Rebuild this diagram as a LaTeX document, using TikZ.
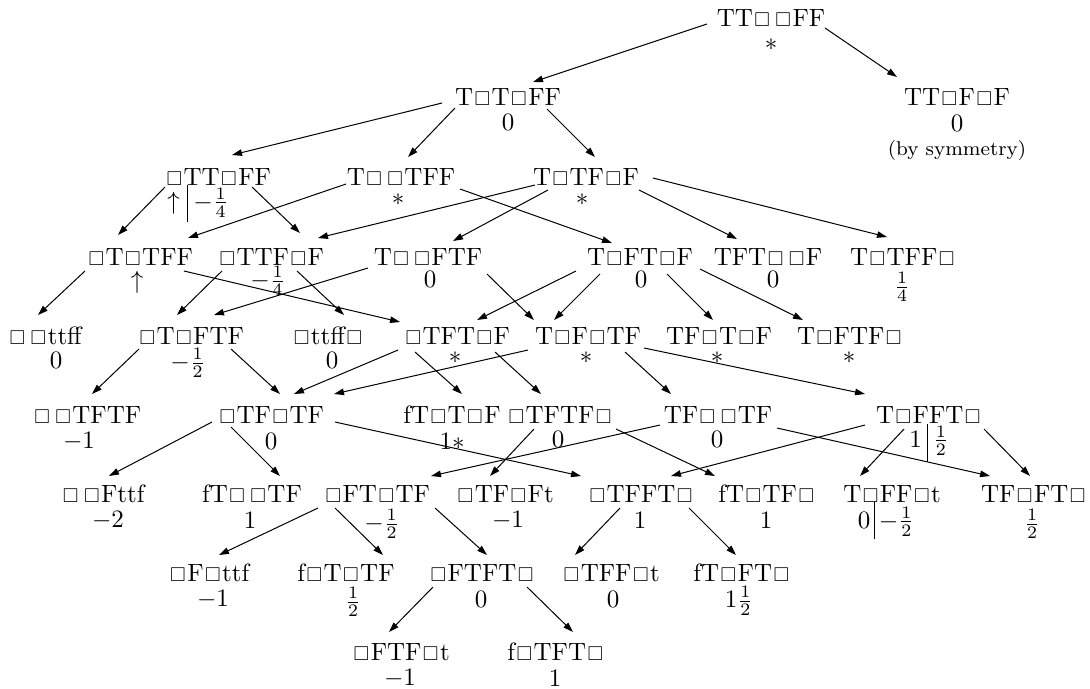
\documentclass[tikz,border=0pt]{standalone}
\usepackage{amssymb}
\usepackage{graphicx}
\usetikzlibrary{arrows.meta,calc}
\newcommand\bx{\kern0.6pt\scalebox{0.8}{$\square$}\kern0.6pt}
\newcommand\bb{\bx\kern1pt\bx}
\begin{document}
\begin{tikzpicture}[x=0.4pt,y=-0.4pt,
  nm/.style={inner sep=0pt},
  vl/.style={inner sep=0pt},
  arr/.style={-{Triangle[length=4pt,width=2.6pt]},line width=0.4pt}]
\useasboundingbox (0,0) rectangle (1090,688);
% names
\node[nm] (N0) at (771,18) {TT\bb FF};
\node[nm] (N1a) at (508,97) {T\bx T\bx FF};
\node[nm] (N1b) at (957,97) {TT\bx F\bx F};
\node[nm] (A) at (218,177) {\bx TT\bx FF};
\node[nm] (B) at (401,177) {T\bb TFF};
\node[nm] (C) at (586,177) {T\bx TF\bx F};
\node[nm] (D) at (140,257) {\bx T\bx TFF};
\node[nm] (E) at (271,257) {\bx TTF\bx F};
\node[nm] (F) at (428,257) {T\bb FTF};
\node[nm] (G) at (640,257) {T\bx FT\bx F};
\node[nm] (H) at (768,257) {TFT\bb F};
\node[nm] (I) at (903,257) {T\bx TFF\bx};
\node[nm] (J) at (45,336) {\bb ttff};
\node[nm] (K) at (191,336) {\bx T\bx FTF};
\node[nm] (L) at (328,336) {\bx ttff\bx};
\node[nm] (M) at (457,336) {\bx TFT\bx F};
\node[nm] (N) at (588,336) {T\bx F\bx TF};
\node[nm] (O) at (719,336) {TF\bx T\bx F};
\node[nm] (P) at (850,336) {T\bx FTF\bx};
\node[nm] (Q) at (87,415) {\bb TFTF};
\node[nm] (R) at (271,415) {\bx TF\bx TF};
\node[nm] (S) at (452,415) {fT\bx T\bx F};
\node[nm] (T) at (560,415) {\bx TFTF\bx};
\node[nm] (U) at (718,415) {TF\bb TF};
\node[nm] (V) at (929,415) {T\bx FFT\bx};
\node[nm] (W) at (103,494) {\bb Fttf};
\node[nm] (X) at (252,494) {fT\bb TF};
\node[nm] (Y) at (377,494) {\bx FT\bx TF};
\node[nm] (Z) at (505,494) {\bx TF\bx Ft};
\node[nm] (AA) at (641,494) {\bx TFFT\bx};
\node[nm] (AB) at (767,494) {fT\bx TF\bx};
\node[nm] (AC) at (892,494) {T\bx FF\bx t};
\node[nm] (AD) at (1034,494) {TF\bx FT\bx};
\node[nm] (AE) at (209,573) {\bx F\bx ttf};
\node[nm] (AF) at (346,573) {f\bx T\bx TF};
\node[nm] (AG) at (482,573) {\bx FTFT\bx};
\node[nm] (AH) at (611,573) {\bx TFF\bx t};
\node[nm] (AI) at (742,573) {fT\bx FT\bx};
\node[nm] (AJ) at (401,652) {\bx FTF\bx t};
\node[nm] (AK) at (556,652) {f\bx TFT\bx};
% values
\node[vl] (vN0) at (771,45) {$\ast$};
\node[vl] (vN1a) at (508,122) {$0$};
\node[vl] (vN1b) at (957,123) {$0$};
\node[vl] (sym) at (957,150) {\footnotesize(by symmetry)};
\node[vl,anchor=base] (vA) at (198,209) {$\uparrow$\kern3pt\rule[-5.2pt]{0.4pt}{14.8pt}\kern2pt$-\frac{1}{4}$};
\node[vl] (vB) at (398,200) {$\ast$};
\node[vl] (vC) at (582,200) {$\ast$};
\node[vl] (vD) at (137,282) {$\uparrow$};
\node[vl] (vE) at (268,281) {$-\frac{1}{4}$};
\node[vl] (vF) at (430,279) {$0$};
\node[vl] (vG) at (641,279) {$0$};
\node[vl] (vH) at (773,279) {$0$};
\node[vl] (vI) at (902,287) {$\frac{1}{4}$};
\node[vl] (vJ) at (56,360) {$0$};
\node[vl] (vK) at (188,363) {$-\frac{1}{2}$};
\node[vl] (vL) at (332,360) {$0$};
\node[vl] (vM) at (455,358) {$\ast$};
\node[vl] (vN) at (586,358) {$\ast$};
\node[vl] (vO) at (717,358) {$\ast$};
\node[vl] (vP) at (849,358) {$\ast$};
\node[vl] (vQ) at (79,441) {$-1$};
\node[vl] (vR) at (271,441) {$0$};
\node[vl] (vS) at (452,441) {$1\ast$};
\node[vl] (vT) at (558,439) {$0$};
\node[vl] (vU) at (717,439) {$0$};
\node[vl,anchor=base] (vV) at (929,447) {$1$\kern2pt\rule[-6pt]{0.4pt}{15.2pt}\kern2pt$\frac{1}{2}$};
\node[vl] (vW) at (108,520) {$-2$};
\node[vl] (vX) at (250,520) {$1$};
\node[vl] (vY) at (382,524) {$-\frac{1}{2}$};
\node[vl] (vZ) at (508,520) {$-1$};
\node[vl] (vAA) at (640,520) {$1$};
\node[vl] (vAB) at (766,520) {$1$};
\node[vl,anchor=base] (vAC) at (886,528) {$0$\kern1.5pt\rule[-4.4pt]{0.4pt}{14.8pt}\kern1.5pt$-\frac{1}{2}$};
\node[vl] (vAD) at (1032,524) {$\frac{1}{2}$};
\node[vl] (vAE) at (213,599) {$-1$};
\node[vl] (vAF) at (353,602) {$\frac{1}{2}$};
\node[vl] (vAG) at (481,599) {$0$};
\node[vl] (vAH) at (613,599) {$0$};
\node[vl] (vAI) at (739,601) {$1\frac{1}{2}$};
\node[vl] (vAJ) at (400,678) {$-1$};
\node[vl] (vAK) at (555,678) {$1$};
% edges
\draw[arr] ($(N0)+(-64,6)$) -- ($(N1a)+(25,-15)$);
\draw[arr] ($(N0)+(54,10)$) -- ($(N1b)+(-60,-20)$);
\draw[arr] ($(N1a)+(-66,6)$) -- ($(A)+(14,-22)$);
\draw[arr] ($(N1a)+(-53,11)$) -- ($(B)+(7,-20)$);
\draw[arr] ($(N1a)+(39,12)$) -- ($(C)+(9,-20)$);
\draw[arr] ($(A)+(-53,10)$) -- ($(D)+(-22,-22)$);
\draw[arr] ($(A)+(34,10)$) -- ($(E)+(29,-24)$);
\draw[arr] ($(B)+(-55,7)$) -- ($(D)+(48,-19)$);
\draw[arr] ($(B)+(59,12)$) -- ($(G)+(-28,-14)$);
\draw[arr] ($(C)+(-51,8)$) -- ($(E)+(47,-19)$);
\draw[arr] ($(C)+(-38,13)$) -- ($(F)+(25,-16)$);
\draw[arr] ($(C)+(53,13)$) -- ($(H)+(-31,-18)$);
\draw[arr] ($(C)+(67,1)$) -- ($(I)+(-16,-20)$);
\draw[arr] ($(D)+(-55,14)$) -- ($(J)+(-7,-21)$);
\draw[arr] ($(D)+(44,14)$) -- ($(M)+(-57,-14)$);
\draw[arr] ($(E)+(-49,14)$) -- ($(K)+(-14,-21)$);
\draw[arr] ($(E)+(26,14)$) -- ($(L)+(16,-21)$);
\draw[arr] ($(F)+(-60,11)$) -- ($(K)+(23,-21)$);
\draw[arr] ($(F)+(59,17)$) -- ($(N)+(-54,-16)$);
\draw[arr] ($(G)+(-64,14)$) -- ($(M)+(20,-16)$);
\draw[arr] ($(G)+(-40,17)$) -- ($(N)+(-34,-16)$);
\draw[arr] ($(G)+(27,17)$) -- ($(O)+(-6,-16)$);
\draw[arr] ($(G)+(60,12)$) -- ($(P)+(-47,-16)$);
\draw[arr] ($(K)+(-52,13)$) -- ($(Q)+(5,-21)$);
\draw[arr] ($(K)+(40,13)$) -- ($(R)+(9,-21)$);
\draw[arr] ($(M)+(-59,14)$) -- ($(R)+(23,-21)$);
\draw[arr] ($(M)+(-42,16)$) -- ($(S)+(10,-21)$);
\draw[arr] ($(M)+(38,16)$) -- ($(T)+(-19,-21)$);
\draw[arr] ($(N)+(-60,14)$) -- ($(R)+(63,-21)$);
\draw[arr] ($(N)+(37,16)$) -- ($(U)+(-47,-21)$);
\draw[arr] ($(N)+(56,12)$) -- ($(V)+(-64,-21)$);
\draw[arr] ($(R)+(-59,7)$) -- ($(W)+(6,-18)$);
\draw[arr] ($(R)+(-40,12)$) -- ($(X)+(28,-18)$);
\draw[arr] ($(R)+(64,7)$) -- ($(AA)+(-60,-18)$);
\draw[arr] ($(T)+(-26,14)$) -- ($(Z)+(-15,-18)$);
\draw[arr] ($(T)+(56,14)$) -- ($(AB)+(-52,-18)$);
\draw[arr] ($(U)+(-58,10)$) -- ($(Y)+(54,-18)$);
\draw[arr] ($(U)+(59,13)$) -- ($(AD)+(-44,-18)$);
\draw[arr] ($(V)+(-64,10)$) -- ($(AA)+(30,-18)$);
\draw[arr] ($(V)+(-25,14)$) -- ($(AC)+(-32,-18)$);
\draw[arr] ($(V)+(55,14)$) -- ($(AD)+(-4,-18)$);
\draw[arr] ($(Y)+(-59,14)$) -- ($(AE)+(10,-18)$);
\draw[arr] ($(Y)+(-42,14)$) -- ($(AF)+(37,-18)$);
\draw[arr] ($(Y)+(58,14)$) -- ($(AG)+(5,-18)$);
\draw[arr] ($(AA)+(-21,14)$) -- ($(AH)+(-36,-18)$);
\draw[arr] ($(AA)+(48,14)$) -- ($(AI)+(-6,-18)$);
\draw[arr] ($(AG)+(-49,14)$) -- ($(AJ)+(-12,-20)$);
\draw[arr] ($(AG)+(45,14)$) -- ($(AK)+(17,-20)$);
\end{tikzpicture}
\end{document}
